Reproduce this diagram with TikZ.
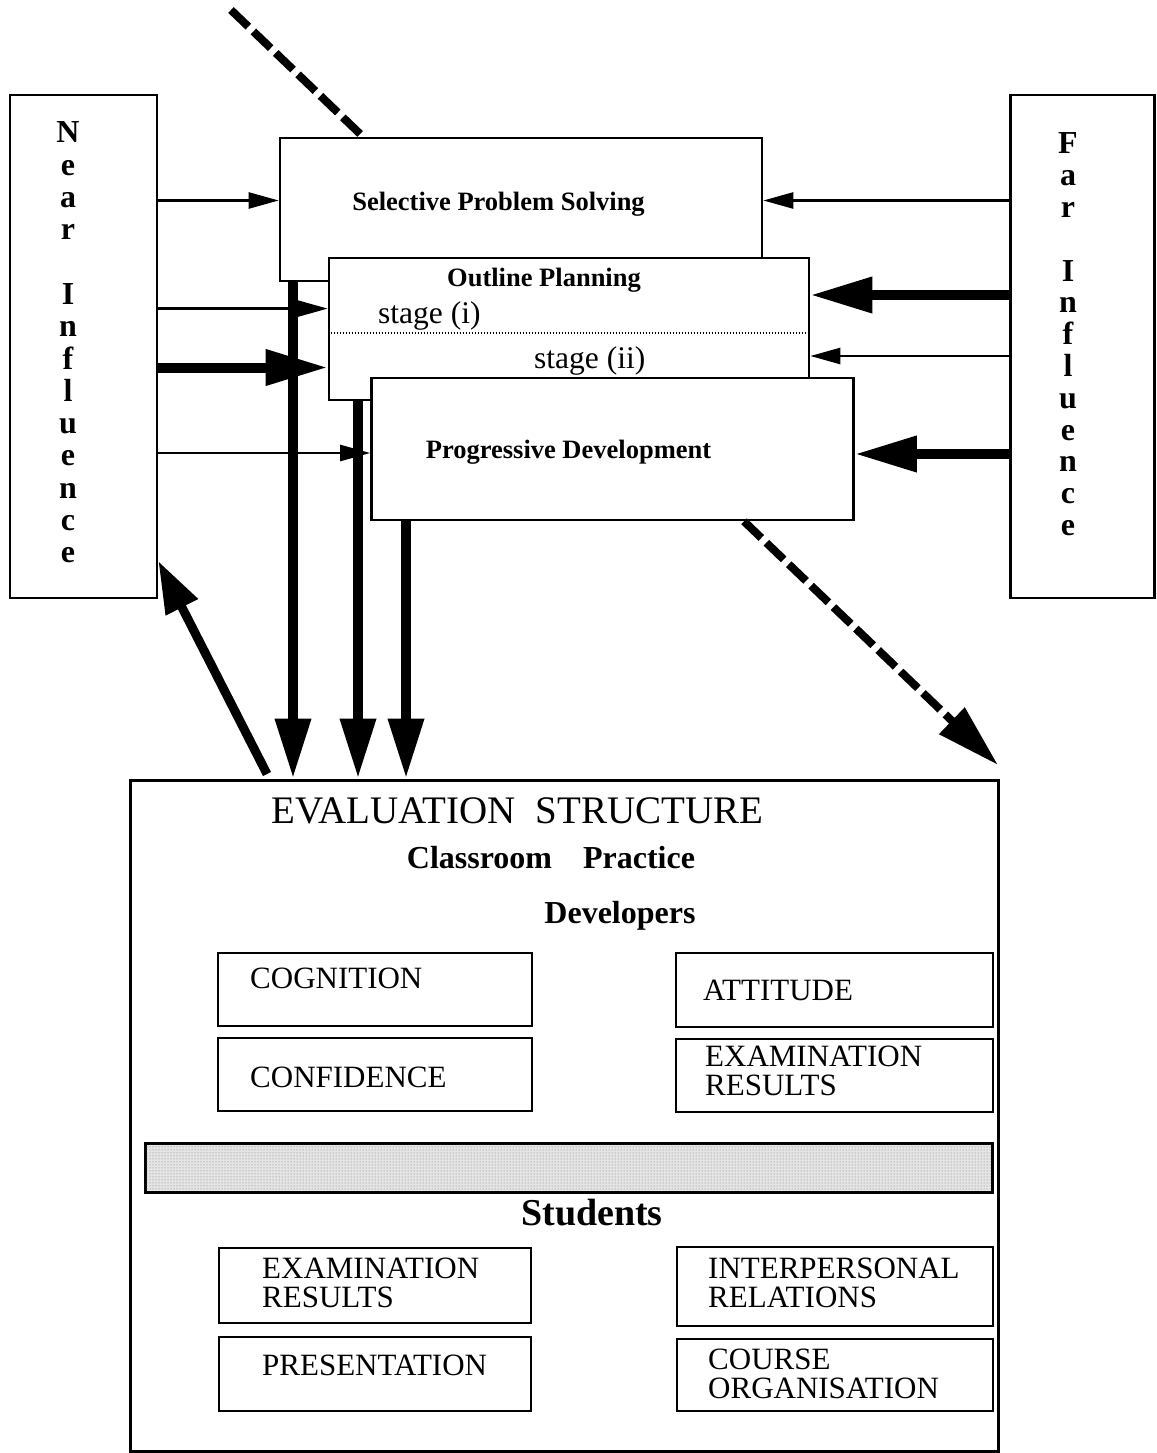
\documentclass[tikz,border=0pt]{standalone}
\usepackage{fontspec}
\setmainfont{Liberation Serif}
\usetikzlibrary{arrows.meta,patterns}

\begin{document}
\begin{tikzpicture}[x=1pt,y=-1pt,
  box/.style={draw, line width=2.6pt, fill=white, inner sep=0pt, rectangle},
  item/.style={draw, line width=2.4pt, inner sep=0pt, rectangle},
  lbl/.style={inner sep=0pt, font=\bfseries\fontsize{26.5}{30}\selectfont},
  stagetext/.style={inner sep=0pt, font=\fontsize{31.5}{34}\selectfont},
  caps/.style={inner sep=0pt, align=left, font=\fontsize{31}{29}\selectfont},
  heading/.style={inner sep=0pt, font=\bfseries\fontsize{32}{36}\selectfont},
  tall/.style={inner sep=0pt, align=center, font=\bfseries\fontsize{32}{32.3}\selectfont},
  thinarrow/.style={line width=2.5pt, -{Triangle[length=30pt,width=16pt]}},
  heavyarrow/.style={line width=10pt, -{Triangle[length=62pt,width=34pt]}},
  dropline/.style={line width=10pt, -{Triangle[length=60pt,width=34pt]}},
  dashline/.style={line width=8pt, dash pattern=on 24pt off 7pt},
]
\useasboundingbox (0,0) rectangle (1156,1453);
\fill[white] (0,0) rectangle (1156,1453);

% side panels
\node[box, minimum width=147pt, minimum height=503pt] (near) at (83.5,346.5) {};
\node[tall, anchor=north] (neartext) at (68,121.8)
  {N\\e\\a\\r\\[32.3pt]I\\n\\f\\l\\u\\e\\n\\c\\e};
\node[box, minimum width=144pt, minimum height=503pt] (far) at (1082.5,346.5) {};
\node[tall, anchor=north, font=\bfseries\fontsize{32}{31.8}\selectfont] (fartext) at (1068,132.8)
  {F\\a\\r\\[31.8pt]I\\n\\f\\l\\u\\e\\n\\c\\e};

% the three overlapping stage boxes
\node[box, minimum width=482pt, minimum height=143pt] (sel) at (521,209.5) {};
\node[lbl, anchor=base] (selt) at (498.5,210) {Selective Problem Solving};
\node[box, minimum width=480pt, minimum height=142pt] (out) at (569,329) {};
\node[lbl, anchor=base] (outt) at (544,286) {Outline Planning};
\node[stagetext, anchor=base west] (st1) at (378,323) {stage (i)};
\node[stagetext, anchor=base west] (st2) at (534,368) {stage (ii)};
\coordinate (dl) at (0,333);
\draw[line width=1.6pt, dash pattern=on 1.6pt off 1.4pt] (out.west |- dl) -- (out.east |- dl);
\node[box, minimum width=482pt, minimum height=142pt] (prog) at (612.5,449) {};
\node[lbl, anchor=base] (progt) at (568.5,458) {Progressive Development};

% evaluation structure
\node[box, line width=3pt, minimum width=868pt, minimum height=671pt] (eval) at (564,1115.5) {};
\node[inner sep=0pt, anchor=base, font=\fontsize{39}{42}\selectfont] (evt) at (517.5,823)
  {EVALUATION\hspace{10pt} STRUCTURE};
\node[heading, anchor=base] (cp) at (551,868) {Classroom\hspace{31pt}Practice};
\node[heading, anchor=base] (dev) at (620,923) {Developers};
\node[inner sep=0pt, anchor=base, font=\bfseries\fontsize{38}{42}\selectfont] (stu) at (592,1225) {Students};

\node[item, minimum width=314pt, minimum height=73pt] (cog) at (375,989.5) {};
\node[caps, anchor=base west] (cogt) at (250,988) {COGNITION};
\node[item, minimum width=317pt, minimum height=74pt] (att) at (834.5,990) {};
\node[caps, anchor=base west] (attt) at (703,1000) {ATTITUDE};
\node[item, minimum width=314pt, minimum height=73pt] (conf) at (375,1074.5) {};
\node[caps, anchor=base west] (conft) at (250,1087) {CONFIDENCE};
\node[item, minimum width=317pt, minimum height=73pt] (examd) at (834.5,1075.5) {};
\node[caps, anchor=north west] (examdt) at (705,1045.5) {EXAMINATION\\RESULTS};

% stippled divider between developers and students
\node[draw, line width=3pt, fill=black!10, inner sep=0pt, minimum width=847pt, minimum height=49pt] (bar) at (568.5,1167.5) {};
\fill[pattern=dots, pattern color=black!55] ([xshift=3pt,yshift=3pt]bar.south west) rectangle ([xshift=-3pt,yshift=-3pt]bar.north east);

\node[item, minimum width=312pt, minimum height=75pt] (exams) at (375,1285.5) {};
\node[caps, anchor=north west] (examst) at (262,1257.5) {EXAMINATION\\RESULTS};
\node[item, minimum width=316pt, minimum height=79pt] (inter) at (835,1286.5) {};
\node[caps, anchor=north west] (intert) at (708,1257.5) {INTERPERSONAL\\RELATIONS};
\node[item, minimum width=312pt, minimum height=74pt] (pres) at (375,1374) {};
\node[caps, anchor=base west] (prest) at (262,1375) {PRESENTATION};
\node[item, minimum width=316pt, minimum height=72pt] (course) at (835,1375) {};
\node[caps, anchor=north west] (courset) at (708,1348.5) {COURSE\\ORGANISATION};

% influence arrows
\coordinate (yA) at (0,200.5);
\coordinate (yB) at (0,308.6);
\coordinate (yC) at (0,367.5);
\coordinate (yD) at (0,453);
\coordinate (yE) at (0,295);
\coordinate (yF) at (0,356);
\coordinate (yG) at (0,454);
\draw[thinarrow] (near.east |- yA) -- (sel.west |- yA);
\draw[thinarrow] (far.west |- yA) -- (sel.east |- yA);
\draw[thinarrow] (near.east |- yB) -- (out.west |- yB);
\draw[heavyarrow] (near.east |- yC) -- (out.west |- yC);
\draw[thinarrow] (near.east |- yD) -- (prog.west |- yD);
\draw[heavyarrow] (far.west |- yE) -- (out.east |- yE);
\draw[thinarrow] (far.west |- yF) -- (out.east |- yF);
\draw[heavyarrow] (far.west |- yG) -- (prog.east |- yG);

% outputs down to the evaluation structure
\coordinate (xa) at (293,0);
\coordinate (xb) at (358,0);
\coordinate (xc) at (406,0);
\draw[dropline] (sel.south -| xa) -- (eval.north -| xa);
\draw[dropline] (out.south -| xb) -- (eval.north -| xb);
\draw[dropline] (prog.south -| xc) -- (eval.north -| xc);

% feedback to near influence
\coordinate (fb) at (267,774);
\coordinate (yH) at (0,561);
\draw[line width=9pt, -{Triangle[length=52pt,width=34pt]}] (fb) -- (near.east |- yH);

% dashed flow lines
\coordinate (dtop) at (231,10);
\coordinate (xd) at (363,0);
\draw[dashline] (dtop) -- (sel.north -| xd);
\coordinate (xe) at (744,0);
\coordinate (dend) at (998,765);
\draw[dashline, -{Triangle[length=64pt,width=35pt]}] (prog.south -| xe) -- (dend);
\end{tikzpicture}
\end{document}
